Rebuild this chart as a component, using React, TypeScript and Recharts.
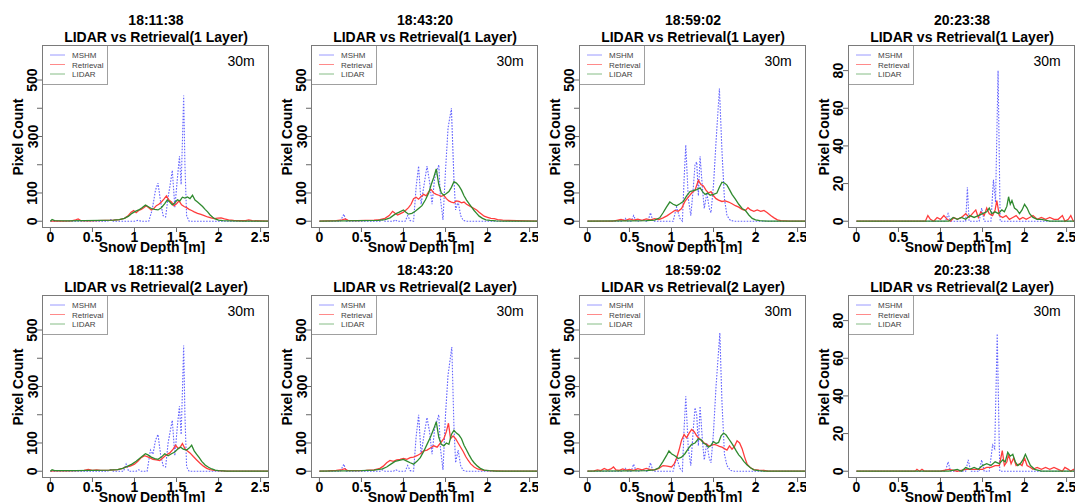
import { Legend, Line, LineChart, XAxis, YAxis } from 'recharts'

type Pt = [number, number]

const TIMES = ['18:11:38', '18:43:20', '18:59:02', '20:23:38']
const LAYERS = ['1 Layer', '2 Layer']
const SERIES_NAMES = ['MSHM', 'Retrieval', 'LIDAR']
const RES_LABEL = '30m'
const X_TICKS = [0, 0.5, 1, 1.5, 2, 2.5]
const Y_TICKS_COUNT = [0, 100, 200, 300, 400, 500]
const Y_LABELS_COUNT = [0, 100, 300, 500]
const Y_TICKS_LATE = [0, 20, 40, 60, 80]

// ---- 1 layer ----
const MSHM_L1_1811: Pt[] = [[0,0],[0.68,0],[0.72,6],[0.75,0],[1.0,0],[1.04,3],[1.08,0],[1.17,0],[1.21,40],[1.25,110],[1.28,135],[1.31,70],[1.34,20],[1.37,15],[1.4,85],[1.43,140],[1.45,180],[1.48,50],[1.51,150],[1.535,230],[1.555,130],[1.57,280],[1.585,445],[1.6,200],[1.62,20],[1.65,0],[2.6,0]]
const RET_L1_1811: Pt[] = [[0,0],[0.05,1],[0.15,0],[0.25,1],[0.3,5],[0.33,8],[0.36,2],[0.45,1],[0.55,2],[0.65,3],[0.75,4],[0.82,6],[0.88,10],[0.92,18],[0.96,32],[0.99,38],[1.02,30],[1.05,38],[1.08,42],[1.11,48],[1.14,55],[1.17,48],[1.2,40],[1.23,45],[1.26,55],[1.29,60],[1.32,68],[1.35,78],[1.38,90],[1.41,75],[1.44,68],[1.47,55],[1.5,62],[1.53,72],[1.56,58],[1.59,52],[1.62,48],[1.65,42],[1.68,38],[1.71,33],[1.75,28],[1.79,24],[1.83,20],[1.87,15],[1.91,12],[1.95,9],[1.99,11],[2.03,12],[2.07,8],[2.12,5],[2.18,3],[2.25,2],[2.32,2],[2.36,5],[2.4,2],[2.5,1],[2.6,0]]
const LIDAR_L1_1811: Pt[] = [[0,0],[0.02,6],[0.05,2],[0.2,1],[0.4,2],[0.6,3],[0.75,4],[0.82,6],[0.88,10],[0.93,18],[0.97,28],[1.01,35],[1.05,40],[1.09,48],[1.13,57],[1.16,52],[1.2,45],[1.24,42],[1.28,40],[1.32,48],[1.36,62],[1.39,75],[1.42,68],[1.45,58],[1.48,65],[1.51,76],[1.54,72],[1.57,85],[1.6,82],[1.63,86],[1.66,80],[1.69,92],[1.72,75],[1.75,68],[1.78,60],[1.81,52],[1.84,42],[1.87,33],[1.9,22],[1.93,14],[1.96,8],[2.0,4],[2.05,2],[2.15,1],[2.3,0],[2.6,0]]

const MSHM_L1_1843: Pt[] = [[0,0],[0.25,0],[0.29,25],[0.32,0],[0.72,0],[0.75,5],[0.78,0],[0.88,0],[0.9,5],[0.93,0],[1.02,0],[1.05,20],[1.08,2],[1.12,0],[1.15,120],[1.18,195],[1.21,60],[1.24,120],[1.28,195],[1.31,140],[1.34,60],[1.37,150],[1.42,200],[1.44,80],[1.47,5],[1.5,180],[1.53,330],[1.57,400],[1.6,150],[1.62,40],[1.65,70],[1.68,20],[1.71,3],[1.75,0],[2.6,0]]
const RET_L1_1843: Pt[] = [[0,0],[0.1,1],[0.2,2],[0.27,5],[0.31,8],[0.34,3],[0.45,2],[0.55,3],[0.65,4],[0.72,6],[0.78,10],[0.83,20],[0.87,35],[0.9,28],[0.93,22],[0.97,28],[1.0,32],[1.03,40],[1.06,48],[1.09,60],[1.12,80],[1.15,85],[1.18,78],[1.21,88],[1.24,95],[1.27,90],[1.3,105],[1.33,112],[1.36,100],[1.39,95],[1.42,92],[1.45,88],[1.48,92],[1.51,80],[1.54,72],[1.57,68],[1.6,65],[1.63,72],[1.66,70],[1.69,65],[1.72,68],[1.75,60],[1.78,55],[1.81,50],[1.84,45],[1.87,40],[1.9,32],[1.93,25],[1.96,18],[2.0,14],[2.04,10],[2.08,9],[2.12,6],[2.18,4],[2.25,3],[2.35,2],[2.45,1],[2.6,0]]
const LIDAR_L1_1843: Pt[] = [[0,0],[0.3,1],[0.5,2],[0.7,3],[0.78,6],[0.84,12],[0.9,25],[0.95,32],[1.0,40],[1.03,32],[1.06,25],[1.1,28],[1.14,35],[1.18,45],[1.22,55],[1.26,75],[1.3,100],[1.33,130],[1.36,155],[1.39,185],[1.42,130],[1.45,100],[1.48,92],[1.51,98],[1.54,105],[1.57,120],[1.6,140],[1.63,135],[1.66,125],[1.69,110],[1.72,90],[1.75,75],[1.78,62],[1.81,50],[1.84,38],[1.87,28],[1.9,18],[1.94,10],[1.98,5],[2.03,3],[2.1,1],[2.2,0],[2.6,0]]

const MSHM_L1_1859: Pt[] = [[0,0],[0.42,0],[0.45,10],[0.48,0],[0.52,0],[0.55,20],[0.58,0],[0.63,0],[0.66,6],[0.69,0],[0.72,0],[0.75,30],[0.78,0],[1.02,0],[1.06,50],[1.1,10],[1.13,0],[1.15,150],[1.17,270],[1.2,80],[1.23,20],[1.26,120],[1.28,200],[1.3,210],[1.32,90],[1.34,230],[1.37,110],[1.39,45],[1.42,100],[1.45,45],[1.47,30],[1.5,130],[1.53,280],[1.57,470],[1.6,250],[1.63,80],[1.66,20],[1.7,3],[1.75,0],[2.6,0]]
const RET_L1_1859: Pt[] = [[0,0],[0.3,0],[0.35,3],[0.4,6],[0.45,2],[0.5,8],[0.55,4],[0.6,7],[0.65,3],[0.7,8],[0.75,5],[0.8,9],[0.85,6],[0.9,12],[0.95,20],[1.0,30],[1.04,38],[1.08,35],[1.12,45],[1.16,70],[1.2,85],[1.24,100],[1.28,110],[1.32,145],[1.35,130],[1.38,125],[1.41,110],[1.44,100],[1.47,105],[1.5,90],[1.53,80],[1.56,75],[1.6,70],[1.64,72],[1.68,68],[1.72,62],[1.76,55],[1.8,50],[1.84,42],[1.88,38],[1.91,48],[1.94,40],[1.98,35],[2.02,40],[2.06,35],[2.1,38],[2.14,30],[2.18,20],[2.22,12],[2.26,5],[2.3,2],[2.4,0],[2.6,0]]
const LIDAR_L1_1859: Pt[] = [[0,0],[0.5,1],[0.7,2],[0.8,4],[0.86,12],[0.9,30],[0.94,50],[0.98,68],[1.02,60],[1.06,55],[1.1,62],[1.14,70],[1.18,90],[1.22,105],[1.26,108],[1.3,112],[1.34,118],[1.37,105],[1.4,95],[1.43,100],[1.46,92],[1.5,95],[1.54,100],[1.57,120],[1.6,138],[1.63,135],[1.66,128],[1.69,112],[1.72,95],[1.76,78],[1.8,60],[1.84,45],[1.88,38],[1.92,22],[1.96,10],[2.0,5],[2.05,2],[2.15,0],[2.6,0]]

const MSHM_L1_2023: Pt[] = [[0,0],[1.06,0],[1.09,4],[1.12,0],[1.3,0],[1.32,18],[1.34,0],[1.46,0],[1.49,7],[1.52,0],[1.6,0],[1.63,22],[1.655,10],[1.685,80],[1.71,0],[2.6,0]]
const RET_L1_2023: Pt[] = [[0,0],[0.82,0],[0.85,3],[0.88,1],[0.92,0],[0.96,2],[1.0,1],[1.04,3],[1.08,1],[1.12,0],[1.16,2],[1.2,1],[1.25,2],[1.3,4],[1.34,2],[1.38,4],[1.42,6],[1.45,2],[1.48,5],[1.52,3],[1.55,7],[1.58,4],[1.62,3],[1.65,6],[1.67,11],[1.7,3],[1.74,2],[1.78,3],[1.82,1],[1.86,2],[1.9,3],[1.94,1],[1.98,2],[2.02,1],[2.06,2],[2.1,3],[2.15,1],[2.2,2],[2.25,1],[2.3,2],[2.35,1],[2.4,1],[2.45,3],[2.48,0],[2.52,1],[2.55,3],[2.58,0],[2.6,0]]
const LIDAR_L1_2023: Pt[] = [[0,0],[1.1,0],[1.15,2],[1.2,1],[1.25,2],[1.3,1],[1.35,3],[1.4,2],[1.45,3],[1.5,4],[1.55,5],[1.58,7],[1.61,4],[1.65,5],[1.69,4],[1.73,6],[1.76,5],[1.79,8],[1.81,13],[1.83,9],[1.85,11],[1.88,7],[1.91,6],[1.94,4],[1.97,6],[2.0,9],[2.03,7],[2.06,4],[2.1,2],[2.15,1],[2.2,1],[2.3,0],[2.6,0]]

// ---- 2 layer ----
const MSHM_L2_1811: Pt[] = [[0,0],[0.68,0],[0.72,6],[0.75,0],[0.87,0],[0.9,25],[0.93,0],[1.02,0],[1.05,5],[1.08,0],[1.15,0],[1.19,75],[1.22,60],[1.25,110],[1.28,130],[1.31,60],[1.34,20],[1.37,15],[1.4,100],[1.43,150],[1.45,180],[1.48,55],[1.51,160],[1.535,230],[1.555,130],[1.57,280],[1.585,445],[1.6,200],[1.62,15],[1.65,0],[2.6,0]]
const RET_L2_1811: Pt[] = [[0,0],[0.1,2],[0.2,1],[0.3,2],[0.4,3],[0.45,6],[0.5,3],[0.55,5],[0.6,3],[0.7,4],[0.8,6],[0.86,10],[0.9,15],[0.95,18],[1.0,25],[1.04,35],[1.08,48],[1.12,55],[1.15,52],[1.18,48],[1.22,42],[1.26,40],[1.3,38],[1.34,48],[1.38,58],[1.42,65],[1.46,78],[1.49,92],[1.52,80],[1.55,88],[1.57,98],[1.6,80],[1.63,72],[1.66,65],[1.7,52],[1.74,40],[1.78,28],[1.82,18],[1.86,10],[1.9,6],[1.95,3],[2.0,2],[2.1,0],[2.6,0]]
const LIDAR_L2_1811: Pt[] = [[0,0],[0.02,5],[0.05,2],[0.3,2],[0.5,3],[0.7,4],[0.8,6],[0.86,10],[0.92,18],[0.97,25],[1.02,35],[1.06,45],[1.1,55],[1.13,62],[1.16,58],[1.2,50],[1.24,45],[1.28,42],[1.32,50],[1.36,62],[1.4,55],[1.44,62],[1.48,68],[1.52,80],[1.55,85],[1.58,78],[1.62,75],[1.65,82],[1.68,92],[1.71,72],[1.74,60],[1.77,48],[1.8,35],[1.84,22],[1.88,14],[1.92,8],[1.96,4],[2.0,2],[2.1,0],[2.6,0]]

const MSHM_L2_1843: Pt[] = [[0,0],[0.25,0],[0.29,25],[0.32,0],[0.72,0],[0.75,5],[0.78,0],[0.88,0],[0.91,5],[0.94,0],[1.02,0],[1.05,20],[1.08,2],[1.12,0],[1.15,120],[1.18,200],[1.21,60],[1.24,120],[1.28,190],[1.31,140],[1.34,60],[1.37,150],[1.42,200],[1.44,80],[1.47,5],[1.5,200],[1.53,340],[1.575,440],[1.6,160],[1.62,30],[1.65,75],[1.68,20],[1.71,3],[1.75,0],[2.6,0]]
const RET_L2_1843: Pt[] = [[0,0],[0.1,1],[0.2,3],[0.27,6],[0.3,9],[0.33,3],[0.45,2],[0.55,3],[0.65,5],[0.72,10],[0.76,18],[0.8,30],[0.84,38],[0.88,35],[0.92,40],[0.96,42],[1.0,45],[1.04,42],[1.08,48],[1.12,50],[1.16,55],[1.2,62],[1.24,72],[1.28,75],[1.32,82],[1.36,90],[1.4,85],[1.44,100],[1.48,115],[1.51,140],[1.535,170],[1.56,115],[1.59,125],[1.62,115],[1.65,100],[1.68,85],[1.71,70],[1.74,52],[1.77,38],[1.8,26],[1.84,15],[1.88,8],[1.94,4],[2.0,2],[2.1,1],[2.2,0],[2.6,0]]
const LIDAR_L2_1843: Pt[] = [[0,0],[0.3,1],[0.5,2],[0.65,4],[0.75,8],[0.8,15],[0.85,25],[0.9,35],[0.95,38],[1.0,42],[1.04,36],[1.08,30],[1.12,25],[1.16,35],[1.2,48],[1.24,70],[1.28,95],[1.32,120],[1.36,150],[1.39,175],[1.42,120],[1.45,95],[1.48,90],[1.51,100],[1.54,95],[1.57,130],[1.6,145],[1.63,135],[1.66,128],[1.69,115],[1.72,92],[1.75,75],[1.78,58],[1.81,42],[1.84,30],[1.88,18],[1.92,9],[1.96,4],[2.02,2],[2.1,0],[2.6,0]]

const MSHM_L2_1859: Pt[] = [[0,0],[0.42,0],[0.45,10],[0.48,0],[0.52,0],[0.55,25],[0.58,0],[0.63,0],[0.66,6],[0.69,0],[0.72,0],[0.75,30],[0.78,0],[1.02,0],[1.06,50],[1.1,10],[1.13,0],[1.15,150],[1.17,265],[1.2,80],[1.23,20],[1.26,150],[1.28,225],[1.3,200],[1.32,90],[1.34,230],[1.37,100],[1.39,40],[1.42,100],[1.45,45],[1.47,30],[1.5,140],[1.53,300],[1.575,490],[1.6,250],[1.63,60],[1.66,20],[1.7,3],[1.75,0],[2.6,0]]
const RET_L2_1859: Pt[] = [[0,0],[0.08,1],[0.12,5],[0.16,2],[0.2,10],[0.24,4],[0.28,8],[0.31,15],[0.34,5],[0.38,3],[0.42,8],[0.46,4],[0.5,6],[0.55,3],[0.6,9],[0.65,5],[0.7,10],[0.75,6],[0.8,5],[0.85,10],[0.9,20],[0.95,18],[1.0,15],[1.03,25],[1.06,45],[1.09,75],[1.12,110],[1.15,130],[1.18,118],[1.21,135],[1.24,148],[1.27,140],[1.3,125],[1.33,115],[1.36,108],[1.39,100],[1.42,95],[1.45,88],[1.48,92],[1.51,95],[1.54,92],[1.57,88],[1.6,85],[1.63,80],[1.66,75],[1.69,90],[1.72,78],[1.75,88],[1.78,108],[1.81,100],[1.84,80],[1.87,50],[1.9,25],[1.94,12],[1.98,6],[2.04,4],[2.1,3],[2.15,0],[2.6,0]]
const LIDAR_L2_1859: Pt[] = [[0,0],[0.5,1],[0.7,2],[0.8,5],[0.85,12],[0.9,35],[0.94,55],[0.97,72],[1.0,62],[1.04,55],[1.08,45],[1.12,50],[1.16,62],[1.2,80],[1.24,95],[1.28,100],[1.32,115],[1.35,112],[1.38,100],[1.41,95],[1.44,85],[1.47,92],[1.5,105],[1.53,98],[1.56,102],[1.59,125],[1.62,135],[1.65,128],[1.68,115],[1.71,102],[1.74,88],[1.77,72],[1.8,58],[1.83,48],[1.86,35],[1.9,22],[1.94,12],[1.98,5],[2.04,2],[2.1,0],[2.6,0]]

const MSHM_L2_2023: Pt[] = [[0,0],[1.06,0],[1.09,5],[1.12,0],[1.3,0],[1.33,6],[1.36,0],[1.46,0],[1.49,6],[1.52,0],[1.58,0],[1.62,14],[1.645,12],[1.675,73],[1.705,0],[2.6,0]]
const RET_L2_2023: Pt[] = [[0,0],[0.7,0],[0.72,1],[0.75,0],[0.78,1],[0.81,0],[1.0,0],[1.1,1],[1.2,0],[1.3,1],[1.4,1],[1.5,1],[1.55,2],[1.6,2],[1.65,3],[1.7,3],[1.735,11],[1.76,3],[1.79,5],[1.81,9],[1.84,4],[1.87,7],[1.9,3],[1.94,4],[1.97,3],[2.0,7],[2.03,3],[2.07,2],[2.1,1],[2.15,2],[2.2,1],[2.25,2],[2.3,1],[2.35,2],[2.4,1],[2.45,0],[2.48,2],[2.52,1],[2.55,0],[2.58,1],[2.6,0]]
const LIDAR_L2_2023: Pt[] = [[0,0],[1.1,0],[1.2,1],[1.25,0],[1.3,2],[1.35,1],[1.4,2],[1.45,1],[1.5,3],[1.55,4],[1.6,3],[1.65,5],[1.7,4],[1.74,6],[1.77,5],[1.8,10],[1.83,8],[1.86,9],[1.89,5],[1.92,3],[1.95,4],[1.98,6],[2.01,9],[2.04,6],[2.07,3],[2.12,1],[2.2,0],[2.6,0]]

const PANEL_SERIES: Pt[][][][] = [
  [
    [MSHM_L1_1811, RET_L1_1811, LIDAR_L1_1811],
    [MSHM_L1_1843, RET_L1_1843, LIDAR_L1_1843],
    [MSHM_L1_1859, RET_L1_1859, LIDAR_L1_1859],
    [MSHM_L1_2023, RET_L1_2023, LIDAR_L1_2023],
  ],
  [
    [MSHM_L2_1811, RET_L2_1811, LIDAR_L2_1811],
    [MSHM_L2_1843, RET_L2_1843, LIDAR_L2_1843],
    [MSHM_L2_1859, RET_L2_1859, LIDAR_L2_1859],
    [MSHM_L2_2023, RET_L2_2023, LIDAR_L2_2023],
  ],
]

const FONT = '"Liberation Sans", Arial, Helvetica, sans-serif'
const STYLES = [
  { color: '#6464ff', legend: '#9a9aff', dash: '1.6 1.4', width: 1.1 },
  { color: '#ff3c3c', legend: '#ff8a8a', dash: undefined, width: 1.3 },
  { color: '#2f8a2f', legend: '#86bd86', dash: undefined, width: 1.3 },
]

// layout
const PLOT_LEFTS = [42, 311, 579, 848]
const PLOT_TOP = 45
const PLOT_W = 227
const PLOT_H = 183
const YW = 40
const XH = 30
const ROW_STEP = 250
const ROW_CLIP = [
  { top: 0, height: 254 },
  { top: 254, height: 248 },
]

const toRows = (pts: Pt[]) => pts.map(([depth, count]) => ({ depth, count }))

function LegendBox() {
  return (
    <svg width={66} height={40} style={{ display: 'block' }}>
      <rect x={0.5} y={0.5} width={65} height={39} fill="#fff" stroke="#a0a0a0" />
      {SERIES_NAMES.map((name, i) => {
        const y = 10 + i * 9.5
        return (
          <g key={name}>
            <line x1={8} x2={23} y1={y} y2={y} stroke={STYLES[i].legend} strokeWidth={1} />
            <text x={30} y={y + 3} fontSize={8} fontFamily={FONT} fill="#444">
              {name}
            </text>
          </g>
        )
      })}
    </svg>
  )
}

function Panel({ row, col }: { row: number; col: number }) {
  const base = row * ROW_STEP - ROW_CLIP[row].top
  const left = PLOT_LEFTS[col]
  const top = base + PLOT_TOP
  const late = col === 3
  const yTicks = late ? Y_TICKS_LATE : Y_TICKS_COUNT
  const yLabels = late ? Y_TICKS_LATE : Y_LABELS_COUNT
  const yDomain = late ? [-3.6, 93.6] : [-24, 624]
  const series = PANEL_SERIES[row][col]

  const yTick = (props: any) => {
    const { x, y, payload } = props
    if (!yLabels.includes(payload.value)) return <g />
    const tx = x + 0.5
    return (
      <text
        x={tx}
        y={y}
        transform={`rotate(-90 ${tx} ${y})`}
        textAnchor="middle"
        fontSize={14}
        fontWeight="bold"
        fontFamily={FONT}
        fill="#000"
      >
        {payload.value}
      </text>
    )
  }

  const text = { position: 'absolute' as const, fontFamily: FONT, whiteSpace: 'nowrap' as const, color: '#000' }

  return (
    <>
      <div
        style={{
          ...text,
          left: left + 114,
          top: base + 12,
          transform: 'translateX(-50%)',
          fontSize: 14,
          fontWeight: 'bold',
          lineHeight: '17px',
          textAlign: 'center',
        }}
      >
        <div>{TIMES[col]}</div>
        <div>{`LIDAR vs Retrieval(${LAYERS[row]})`}</div>
      </div>
      <div style={{ position: 'absolute', left: left - YW, top }}>
        <LineChart
          width={YW + PLOT_W}
          height={PLOT_H + XH}
          margin={{ top: 0, right: 0, bottom: 0, left: 0 }}
        >
          <XAxis
            type="number"
            dataKey="depth"
            domain={[-0.1, 2.6]}
            ticks={X_TICKS}
            interval={0}
            allowDataOverflow
            height={XH}
            tickSize={4}
            tickMargin={0}
            axisLine={false}
            tickLine={{ stroke: '#666' }}
            tickFormatter={(v: number) => String(v)}
            tick={{ fontSize: 14, fontWeight: 'bold', fill: '#000', fontFamily: FONT }}
          />
          <YAxis
            type="number"
            domain={yDomain}
            ticks={yTicks}
            interval={0}
            allowDataOverflow
            width={YW}
            tickSize={5}
            tickMargin={0}
            axisLine={false}
            tickLine={{ stroke: '#666' }}
            tick={yTick}
          />
          <Legend
            layout="vertical"
            align="center"
            verticalAlign="middle"
            content={() => <LegendBox />}
            wrapperStyle={{ left: YW, top: 0, width: 66, height: 40 }}
          />
          {series.map((pts, i) => (
            <Line
              key={SERIES_NAMES[i]}
              data={toRows(pts)}
              dataKey="count"
              name={SERIES_NAMES[i]}
              type="linear"
              stroke={STYLES[i].color}
              strokeWidth={STYLES[i].width}
              strokeDasharray={STYLES[i].dash}
              dot={false}
              activeDot={false}
              isAnimationActive={false}
            />
          ))}
        </LineChart>
      </div>
      <div
        style={{
          position: 'absolute',
          left,
          top,
          width: PLOT_W,
          height: PLOT_H,
          border: '1px solid #7a7a7a',
          boxSizing: 'border-box',
          pointerEvents: 'none',
        }}
      />
      <div style={{ ...text, left: left + 199, top: top + 9, transform: 'translateX(-50%)', fontSize: 14, lineHeight: '14px' }}>
        {RES_LABEL}
      </div>
      <div
        style={{
          ...text,
          left: left - 24,
          top: top + PLOT_H / 2,
          transform: 'translate(-50%, -50%) rotate(-90deg)',
          fontSize: 14,
          fontWeight: 'bold',
          lineHeight: '14px',
        }}
      >
        Pixel Count
      </div>
      <div
        style={{
          ...text,
          left: left + 110,
          top: base + 240,
          transform: 'translateX(-50%)',
          fontSize: 14,
          fontWeight: 'bold',
          lineHeight: '14px',
        }}
      >
        Snow Depth [m]
      </div>
    </>
  )
}

export default function App() {
  return (
    <div style={{ position: 'absolute', left: 0, top: 0, width: 1081, height: 502, background: '#fff', overflow: 'hidden' }}>
      {ROW_CLIP.map((clip, row) => (
        <div
          key={row}
          style={{ position: 'absolute', left: 0, top: clip.top, width: 1081, height: clip.height, overflow: 'hidden', background: '#fff' }}
        >
          {TIMES.map((_, col) => (
            <Panel key={col} row={row} col={col} />
          ))}
        </div>
      ))}
    </div>
  )
}
